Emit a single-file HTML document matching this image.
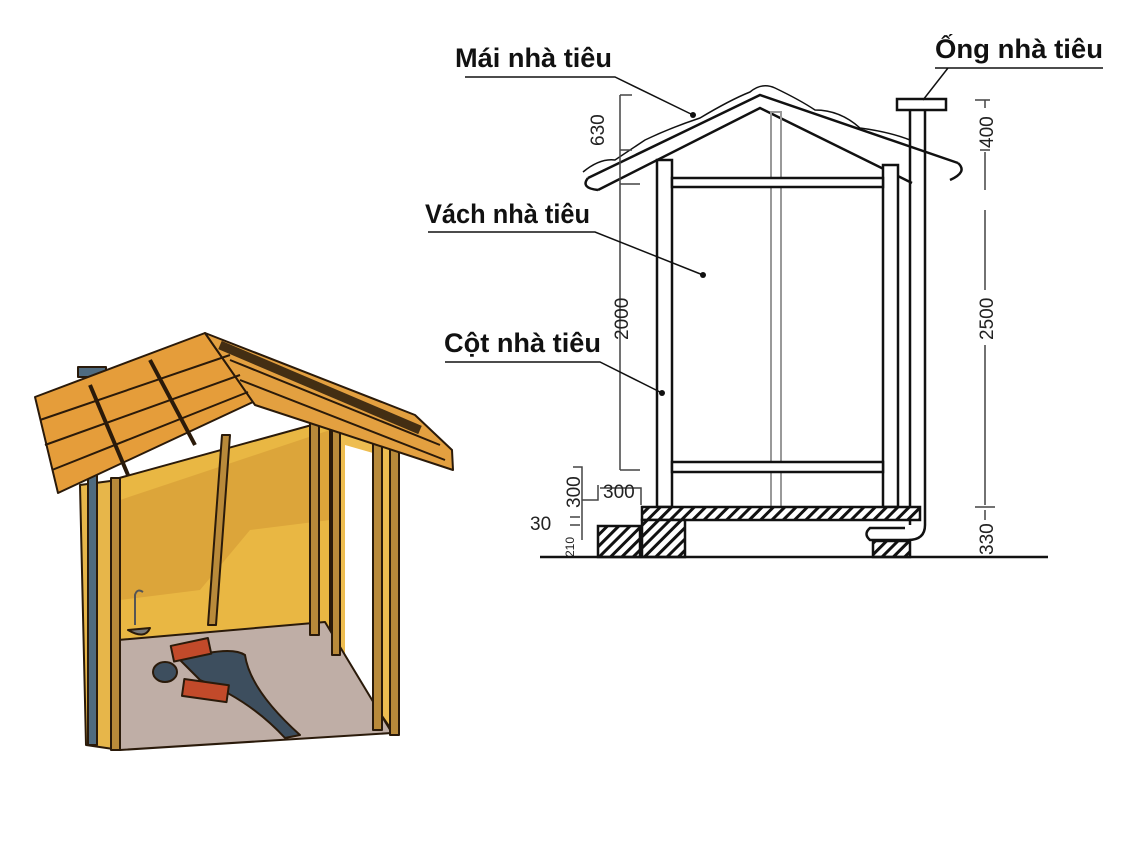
<!DOCTYPE html>
<html><head><meta charset="utf-8"><style>
html,body{margin:0;padding:0;background:#fff;}
svg{display:block;}
.lb{font-family:"Liberation Sans Narrow","Liberation Sans",sans-serif;font-weight:bold;font-size:27px;fill:#111;}
.dm{font-family:"Liberation Sans",sans-serif;font-size:19px;fill:#222;}
</style></head><body>
<svg width="1141" height="844" viewBox="0 0 1141 844" xmlns="http://www.w3.org/2000/svg">
<defs>
<pattern id="h" width="8" height="8" patternUnits="userSpaceOnUse" patternTransform="rotate(45)">
<rect width="8" height="8" fill="#fff"/><rect width="3" height="8" fill="#111"/></pattern>
</defs>
<!-- ===== Illustration ===== -->
<g stroke="#2a1a0a" stroke-width="2" stroke-linejoin="round">
<polygon points="112,480 330,420 330,640 118,650" fill="#e9b743"/>
<polygon points="120,500 330,430 330,520 250,530 200,590 120,600" fill="#dca53a" stroke="none"/>
<polygon points="80,485 118,480 120,750 86,745" fill="#e7b64a"/>
<polygon points="330,420 395,445 395,735 330,640" fill="#eebd50"/>
<polygon points="345,445 380,455 380,720 345,660" fill="#fff" stroke="none"/>
<polygon points="118,640 325,622 392,733 120,750" fill="#bfaea6"/>
<rect x="111" y="478" width="9" height="272" fill="#b98a3a"/>
<polygon points="222,435 230,435 216,625 208,625" fill="#b98a3a"/>
<rect x="310" y="405" width="9" height="230" fill="#b98a3a"/>
<rect x="373" y="440" width="9" height="290" fill="#b98a3a"/>
<rect x="390" y="445" width="9" height="290" fill="#b98a3a"/>
<rect x="332" y="425" width="8" height="230" fill="#b98a3a"/>
<rect x="88" y="375" width="9" height="370" fill="#4f6b80"/>
<rect x="78" y="367" width="28" height="10" fill="#4f6b80"/>
<path d="M180,660 Q230,645 245,655 Q250,690 300,735 L285,738 Q250,700 200,680 Z" fill="#3d4e5e"/>
<ellipse cx="165" cy="672" rx="12" ry="10" fill="#3d4e5e"/>
<rect x="172" y="642" width="38" height="16" fill="#c24a2a" transform="rotate(-12 190 650)"/>
<rect x="183" y="682" width="45" height="17" fill="#c24a2a" transform="rotate(8 205 690)"/>
<path d="M128,630 Q145,640 150,628 Z" fill="#777"/>
<path d="M135,625 L135,595 Q137,588 143,592" fill="none" stroke="#555"/>
<polygon points="35,397 205,333 253,402 58,493" fill="#e59d3a"/>
<polygon points="205,333 415,415 452,450 453,470 255,405" fill="#e3a040"/>
<path d="M220,345 L420,430" stroke="#1c1208" stroke-width="9" opacity="0.8"/>
<path d="M40,420 L230,355 M45,445 L240,375 M52,470 L248,392" fill="none"/>
<path d="M90,385 L128,475 M150,360 L195,445" fill="none" stroke-width="4"/>
<path d="M230,360 L440,445 M240,380 L445,460" fill="none"/>
</g>
<!-- ===== Technical drawing ===== -->
<g stroke="#111" fill="none" stroke-width="2.5">
<path d="M588,178 L760,95 L958,163"/>
<path d="M598,190 L760,108 L912,183"/>
<path d="M588,178 Q580,188 598,190 M958,163 Q968,172 950,180"/>
<path d="M583,172 Q600,158 615,160 Q630,150 645,140 Q670,128 700,118 Q730,100 750,92 Q762,82 775,88 Q800,100 815,110 Q840,110 860,128 Q890,132 910,140" stroke-width="1.5"/>
<rect x="657" y="160" width="15" height="347" fill="#fff"/>
<rect x="883" y="165" width="15" height="342" fill="#fff"/>
<rect x="771" y="112" width="10" height="395" stroke="#999" stroke-width="2"/>
<rect x="672" y="178" width="211" height="9" fill="#fff"/>
<rect x="672" y="462" width="211" height="10" fill="#fff"/>
<rect x="897" y="99" width="49" height="11" fill="#fff"/>
<path d="M910,110 L910,525 M925,110 L925,525 Q925,540 908,540 L870,540 Q863,534 870,528 L905,528"/>
<rect x="642" y="507" width="278" height="13" fill="url(#h)"/>
<rect x="598" y="526" width="42" height="31" fill="url(#h)"/>
<rect x="642" y="520" width="43" height="37" fill="url(#h)"/>
<rect x="873" y="541" width="37" height="16" fill="url(#h)"/>
<path d="M540,557 L1048,557"/>
</g>
<g stroke="#444" stroke-width="1.5" fill="none">
<path d="M620,95 L620,470 M620,95 L632,95 M620,150 L632,150 M620,184 L640,184 M620,470 L640,470"/>
<path d="M985,100 L985,108 M985,152 L985,190 M985,210 L985,290 M985,345 L985,505 M975,100 L990,100 M980,150 L990,150 M975,507 L995,507 M985,510 L985,520"/>
<path d="M573,467 L582,467 L582,540 M598,485 L598,500 L582,500 M600,488 L641,488 L641,505 M570,517 L580,517 M570,525 L580,525"/>
</g>
<g class="dm">
<text transform="translate(604,146) rotate(-90)">630</text>
<text transform="translate(628,340) rotate(-90)">2000</text>
<text transform="translate(993,148) rotate(-90)">400</text>
<text transform="translate(993,340) rotate(-90)">2500</text>
<text transform="translate(993,555) rotate(-90)">330</text>
<text transform="translate(580,508) rotate(-90)">300</text>
<text x="603" y="498">300</text>
<text x="530" y="530">30</text>
<text transform="translate(574,557) rotate(-90)" style="font-size:12px">210</text>
</g>
<g stroke="#111" stroke-width="1.5" fill="none">
<path d="M465,77 L615,77 L693,115"/>
<path d="M935,68 L1103,68 M948,68 L923,100"/>
<path d="M428,232 L595,232 L703,275"/>
<path d="M445,362 L600,362 L662,393"/>
</g>
<g fill="#111"><circle cx="693" cy="115" r="3"/><circle cx="703" cy="275" r="3"/><circle cx="662" cy="393" r="3"/></g>
<g class="lb">
<text x="455" y="67" textLength="157" lengthAdjust="spacingAndGlyphs">Mái nhà tiêu</text>
<text x="935" y="58" textLength="168" lengthAdjust="spacingAndGlyphs">Ống nhà tiêu</text>
<text x="425" y="223" textLength="165" lengthAdjust="spacingAndGlyphs">Vách nhà tiêu</text>
<text x="444" y="352" textLength="157" lengthAdjust="spacingAndGlyphs">Cột nhà tiêu</text>
</g>
</svg>
</body></html>
